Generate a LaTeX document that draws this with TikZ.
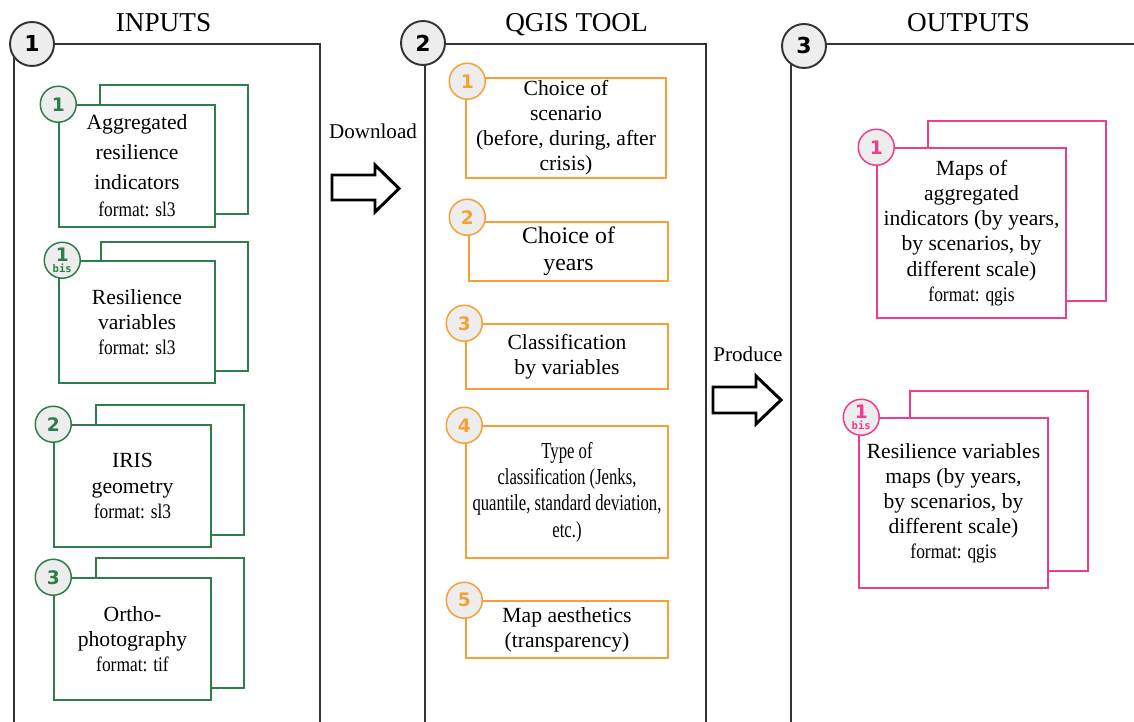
\documentclass[tikz,border=0pt]{standalone}
\usepackage{fontspec}
\setmainfont{Liberation Serif}
\newfontfamily\numfont{DejaVu Sans}
\newfontfamily\bisfont{DejaVu Sans Mono}
\newfontfamily\fmtfont[FakeStretch=0.84]{Liberation Serif}
\newfontfamily\narrowfont[FakeStretch=0.73]{Liberation Serif}
\usepackage{tikz}
\definecolor{ingreen}{HTML}{2E7D4B}
\definecolor{toolorange}{HTML}{F7A035}
\definecolor{outpink}{HTML}{EE3D8F}
\definecolor{taggray}{HTML}{EDEDED}
\definecolor{framegray}{HTML}{333333}
\newcommand{\pxu}{0.02cm}
\newcommand{\fmt}[1]{{\fmtfont\fontsize{11.8}{13}\selectfont #1}}
\newcommand{\bis}{\\[-5pt]{\bisfont\bfseries\fontsize{6}{6}\selectfont bis}}

\tikzset{
  box/.style={draw, fill=white, line width=0.85pt, inner sep=0pt, align=center,
    font=\fontsize{12.3}{14.3}\selectfont},
  gbox/.style={box, draw=ingreen},
  obox/.style={box, draw=toolorange},
  pbox/.style={box, draw=outpink},
  tag/.style={circle, fill=taggray, line width=0.85pt, inner sep=0pt, align=center,
    minimum size=36*\pxu, font=\numfont\bfseries\fontsize{10.6}{11}\selectfont},
  gtag/.style={tag, draw=ingreen, text=ingreen},
  otag/.style={tag, draw=toolorange, text=toolorange},
  ptag/.style={tag, draw=outpink, text=outpink},
  stepnum/.style={circle, draw=framegray, fill=taggray, line width=1.1pt, inner sep=0pt,
    minimum size=44*\pxu, font=\numfont\bfseries\fontsize{12.5}{13}\selectfont},
  frame/.style={draw=framegray, line width=1.1pt},
  header/.style={anchor=base, font=\fontsize{15.5}{18}\selectfont},
  bigarrow/.style={draw=black, line width=1.7pt, fill=white, line join=miter},
}

\begin{document}
\begin{tikzpicture}[x=\pxu, y=-\pxu]
\useasboundingbox (0,0) rectangle (1134,722);

% panel frames
\draw[frame] (14,722) -- (14,44) -- (320,44) -- (320,722);
\draw[frame] (425,722) -- (425,44) -- (706,44) -- (706,722);
\draw[frame] (791,722) -- (791,44) -- (1134,44);
\node[stepnum] (s1) at (32,44) {1};
\node[stepnum] (s2) at (423,43) {2};
\node[stepnum] (s3) at (804,46) {3};
\node[header] (inputs) at (163.5,32) {INPUTS};
\node[header] (tool) at (576.5,32) {QGIS TOOL};
\node[header] (outputs) at (968.5,32) {OUTPUTS};

% inputs
\node[gbox, minimum width=148*\pxu, minimum height=129*\pxu] (aggback) at (174,149.5) {};
\node[gbox, minimum width=156*\pxu, minimum height=122*\pxu, font=\fontsize{12.3}{17}\selectfont]
  (agg) at (137,166) {Aggregated\\resilience\\indicators\\[-1.5pt]\fmt{format: sl3}};
\node[gtag] (t1) at (agg.north west) {1};

\node[gbox, minimum width=147*\pxu, minimum height=129*\pxu] (resback) at (174.5,306.5) {};
\node[gbox, minimum width=156*\pxu, minimum height=122*\pxu]
  (res) at (137,322) {Resilience\\variables\\\fmt{format: sl3}};
\node[gtag] (t1b) at ([xshift=4*\pxu]res.north west) {1\bis};

\node[gbox, minimum width=148*\pxu, minimum height=130*\pxu] (irisback) at (170,470) {};
\node[gbox, minimum width=157*\pxu, minimum height=122*\pxu]
  (iris) at (132.5,486) {IRIS\\geometry\\\fmt{format: sl3}};
\node[gtag] (t2) at (iris.north west) {2};

\node[gbox, minimum width=148*\pxu, minimum height=130*\pxu] (orthoback) at (170,623) {};
\node[gbox, minimum width=157*\pxu, minimum height=122*\pxu]
  (ortho) at (132.5,639) {Ortho-\\photography\\\fmt{format: tif}};
\node[gtag] (t3) at (ortho.north west) {3};

% download arrow
\node (download) at (373,139) [anchor=base, font=\fontsize{12}{14}\selectfont] {Download};
\draw[bigarrow] (332,175) -- (375,175) -- (375,165) -- (399,188.5) -- (375,212) -- (375,200) -- (332,200) -- cycle;

% qgis tool
\node[obox, minimum width=200*\pxu, minimum height=100*\pxu]
  (scen) at (566,128) {Choice of\\scenario\\(before, during, after\\crisis)};
\node[otag] (o1) at ([xshift=2*\pxu,yshift=-4*\pxu]scen.north west) {1};
\node[obox, minimum width=199*\pxu, minimum height=59*\pxu, font=\fontsize{13.5}{15.3}\selectfont]
  (years) at (568.5,251.5) {Choice of\\years};
\node[otag] (o2) at ([xshift=-1*\pxu,yshift=4*\pxu]years.north west) {2};
\node[obox, minimum width=202*\pxu, minimum height=65*\pxu]
  (classvar) at (567,356.5) {Classification\\by variables};
\node[otag] (o3) at ([xshift=-1*\pxu]classvar.north west) {3};
\node[obox, minimum width=202*\pxu, minimum height=132*\pxu, font=\narrowfont\fontsize{13}{15}\selectfont]
  (classtype) at (567,492) {Type of\\classification (Jenks,\\quantile, standard deviation,\\etc.)};
\node[otag] (o4) at ([xshift=-1*\pxu]classtype.north west) {4};
\node[obox, minimum width=202*\pxu, minimum height=57*\pxu]
  (aesth) at (567,629.5) {Map aesthetics\\(transparency)};
\node[otag] (o5) at ([xshift=-1*\pxu]aesth.north west) {5};

% produce arrow
\node (produce) at (748,362) [anchor=base, font=\fontsize{12}{14}\selectfont] {Produce};
\draw[bigarrow] (713,387) -- (756,387) -- (756,376) -- (781,400) -- (756,424) -- (756,413) -- (713,413) -- cycle;

% outputs
\node[pbox, minimum width=178*\pxu, minimum height=180*\pxu] (mapsback) at (1017,211) {};
\node[pbox, minimum width=189*\pxu, minimum height=170*\pxu]
  (maps) at (971.5,233) {Maps of\\aggregated\\indicators (by years,\\by scenarios, by\\different scale)\\\fmt{format: qgis}};
\node[ptag] (p1) at (maps.north west) {1};

\node[pbox, minimum width=178*\pxu, minimum height=180*\pxu] (varmapsback) at (999,481) {};
\node[pbox, minimum width=189*\pxu, minimum height=170*\pxu]
  (varmaps) at (953.5,503) {Resilience variables\\maps (by years,\\by scenarios, by\\different scale)\\\fmt{format: qgis}};
\node[ptag] (p1b) at ([xshift=3*\pxu]varmaps.north west) {1\bis};
\end{tikzpicture}
\end{document}
